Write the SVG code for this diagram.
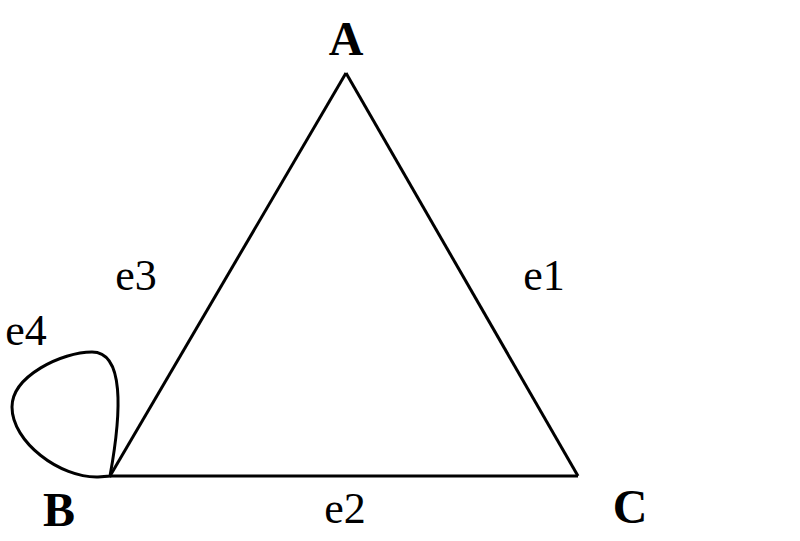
<svg xmlns="http://www.w3.org/2000/svg" width="800" height="541" viewBox="0 0 800 541">
<style>
.edge{fill:none;stroke:#000;stroke-width:3;stroke-linejoin:miter}
.vl{font-family:"Liberation Serif",serif;font-weight:bold;font-size:48px;fill:#000;text-anchor:middle}
.el{font-family:"Liberation Serif",serif;font-size:44px;fill:#000;text-anchor:middle}
</style>
<rect width="800" height="541" fill="#fff"/>
<g id="connectors">
<path id="e1" class="edge" d="M346,73 L578,476"/>
<path id="e2" class="edge" d="M110,476 L578,476"/>
<path id="e3" class="edge" d="M110,476 L346,73"/>
<path id="e4" class="edge" d="M110,476 C122,410 124,352 92,352 C62,352 12,376 12,407 C12,442 60,478 98,477 Z"/>
<text class="el" x="544" y="290">e1</text>
<text class="el" x="345" y="523">e2</text>
<text class="el" x="136" y="290">e3</text>
<text class="el" x="26" y="345">e4</text>
</g>
<g id="A"><text class="vl" x="346" y="55">A</text></g>
<g id="B"><text class="vl" x="59" y="526">B</text></g>
<g id="C"><text class="vl" x="630" y="523">C</text></g>
</svg>
